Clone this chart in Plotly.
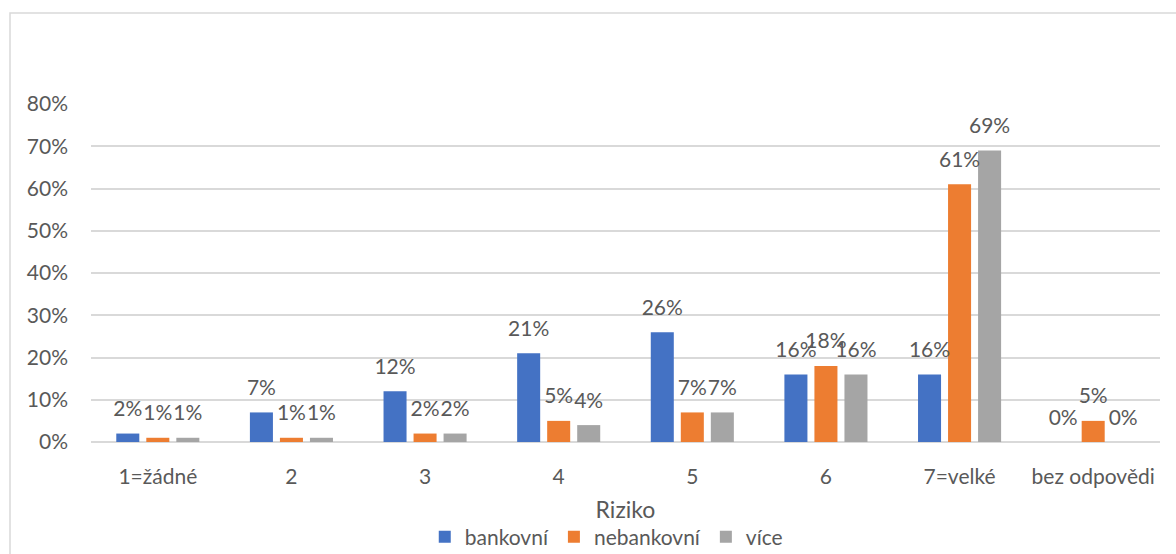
import plotly.graph_objects as go

categories = ["1=žádné", "2", "3", "4", "5", "6", "7=velké", "bez odpovědi"]
bankovni = [0.02, 0.07, 0.12, 0.21, 0.26, 0.16, 0.16, 0.00]
nebankovni = [0.01, 0.01, 0.02, 0.05, 0.07, 0.18, 0.61, 0.05]
vice = [0.01, 0.01, 0.02, 0.04, 0.07, 0.16, 0.69, 0.00]
series_names = ["bankovní", "nebankovní", "více"]
colors = ["#4472C4", "#ED7D31", "#A5A5A5"]
y_ticks = [0, 0.1, 0.2, 0.3, 0.4, 0.5, 0.6, 0.7, 0.8]
y_tick_labels = ["0%", "10%", "20%", "30%", "40%", "50%", "60%", "70%", "80%"]

FONT = "Lato"
TXT = "#595959"
FS = 21

fig = go.Figure()
for name, vals, col in zip(series_names, [bankovni, nebankovni, vice], colors):
    fig.add_trace(go.Bar(
        x=categories, y=vals, name=name,
        marker=dict(color=col, line=dict(width=0)),
        hoverinfo="x+y+name",
    ))
# data labels (placed through the same grouped category scale)
for name, vals in zip(series_names, [bankovni, nebankovni, vice]):
    fig.add_trace(go.Scatter(
        x=categories, y=vals, mode="markers+text", showlegend=False,
        text=[f"{round(v*100)}%" for v in vals], textposition="top center",
        textfont=dict(family=FONT, size=FS, color=TXT),
        marker=dict(size=18, color="rgba(0,0,0,0)"),
        cliponaxis=False, hoverinfo="skip", name=name,
    ))

fig.update_layout(
    width=1176, height=554,
    margin=dict(l=91, r=16, t=104, b=112, autoexpand=False),
    paper_bgcolor="white", plot_bgcolor="white",
    barmode="group", bargap=0.326, bargroupgap=0.233,
    scattermode="group", scattergap=0.326,
    font=dict(family=FONT, size=FS, color=TXT),
    showlegend=True,
    legend=dict(orientation="h", x=0.482, xanchor="center", y=-0.281, yanchor="middle",
                font=dict(family=FONT, size=FS, color=TXT), itemwidth=30,
                traceorder="normal"),
    xaxis=dict(title=dict(text="Riziko", font=dict(family=FONT, size=23, color=TXT), standoff=14),
               automargin=False,
               showgrid=False, showline=False, ticks="", ticklabelstandoff=20,
               tickfont=dict(family=FONT, size=FS, color=TXT)),
    yaxis=dict(range=[0, 0.8], tickvals=y_ticks, ticktext=y_tick_labels, automargin=False,
               showgrid=True, gridcolor="#D9D9D9", gridwidth=1.5, zeroline=True,
               zerolinecolor="#D9D9D9", zerolinewidth=1.5, showline=False,
               ticks="", ticklabelstandoff=22,
               tickfont=dict(family=FONT, size=FS, color=TXT)),
    shapes=[dict(type="rect", xref="paper", yref="paper",
                 x0=(10-91)/1069, x1=1.2, y0=-0.6, y1=(442-13)/338,
                 line=dict(color="#D9D9D9", width=1.5), fillcolor="rgba(0,0,0,0)", layer="below")],
)

fig.write_html("out.html")
